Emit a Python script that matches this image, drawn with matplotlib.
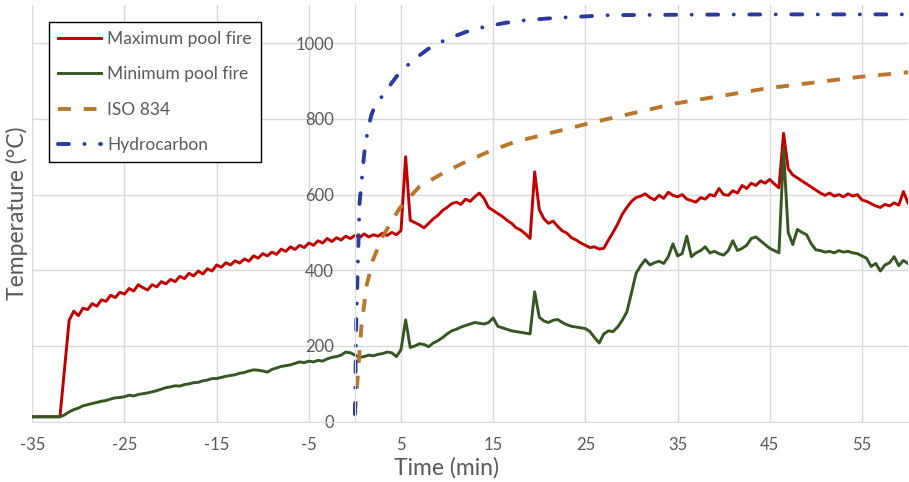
import numpy as np
import matplotlib
matplotlib.use("Agg")
import matplotlib.pyplot as plt

plt.rcParams['font.family'] = ['Lato', 'DejaVu Sans']
plt.rcParams['axes.unicode_minus'] = False

# Logged temperatures, one reading every 0.5 min from -35 to 60 min
time_min = np.arange(-35, 60.01, 0.5)

# Maximum pool fire (each row = 5 minutes)
max_pool = [
    13, 13, 13, 13, 13, 13, 13, 140, 268, 292,          # -35
    280, 300, 296, 312, 305, 322, 318, 334, 328, 342,   # -30
    337, 352, 345, 362, 354, 348, 362, 356, 370, 364,   # -25
    376, 370, 384, 378, 392, 385, 398, 390, 404, 398,   # -20
    414, 408, 420, 414, 425, 419, 430, 424, 438, 432,   # -15
    444, 438, 448, 442, 456, 450, 462, 455, 466, 460,   # -10
    472, 466, 478, 472, 484, 476, 486, 480, 490, 484,   # -5
    492, 486, 496, 488, 494, 490, 498, 492, 500, 494,   # 0
    505, 700, 532, 526, 520, 512, 524, 536, 545, 558,   # 5
    566, 576, 580, 574, 588, 582, 594, 604, 590, 566,   # 10
    558, 550, 542, 532, 524, 512, 506, 496, 484, 660,   # 15
    560, 536, 524, 530, 516, 504, 498, 486, 480, 472,   # 20
    466, 460, 462, 456, 458, 480, 500, 522, 548, 566,   # 25
    582, 592, 596, 602, 592, 586, 598, 590, 606, 598,   # 30
    594, 600, 588, 584, 580, 592, 588, 600, 596, 616,   # 35
    600, 598, 610, 604, 624, 616, 630, 624, 636, 630,   # 40
    640, 628, 618, 762, 668, 652, 644, 636, 628, 620,   # 45
    612, 604, 598, 604, 596, 600, 594, 602, 596, 600,   # 50
    586, 582, 576, 570, 566, 574, 570, 578, 572, 608,   # 55
    578,                                                # 60
]

# Minimum pool fire
min_pool = [
    13, 13, 13, 13, 13, 13, 13, 18, 26, 32,             # -35
    36, 42, 45, 48, 51, 54, 56, 60, 63, 64,             # -30
    66, 70, 68, 72, 74, 76, 79, 82, 86, 90,             # -25
    92, 95, 94, 98, 100, 103, 104, 108, 110, 114,       # -20
    114, 117, 120, 122, 124, 128, 130, 134, 137, 136,   # -15
    134, 131, 138, 142, 146, 148, 150, 154, 158, 156,   # -10
    160, 158, 162, 160, 166, 170, 172, 176, 184, 182,   # -5
    176, 170, 172, 176, 174, 178, 180, 184, 182, 172,   # 0
    190, 269, 196, 200, 206, 204, 198, 208, 214, 222,   # 5
    232, 240, 244, 250, 254, 258, 262, 260, 258, 262,   # 10
    274, 252, 248, 244, 240, 238, 236, 234, 232, 343,   # 15
    276, 266, 262, 268, 270, 262, 256, 252, 250, 248,   # 20
    246, 238, 222, 208, 232, 240, 238, 250, 268, 290,   # 25
    340, 392, 412, 428, 414, 420, 424, 418, 436, 470,   # 30
    438, 444, 490, 436, 446, 452, 462, 446, 450, 444,   # 35
    440, 452, 478, 452, 458, 466, 484, 488, 478, 468,   # 40
    458, 452, 446, 718, 500, 468, 508, 500, 494, 470,   # 45
    454, 452, 448, 450, 446, 452, 448, 450, 446, 444,   # 50
    438, 432, 410, 418, 398, 414, 420, 436, 412, 426,   # 55
    418,                                                # 60
]

# Standard fire curves
iso_t = [0, 0.33, 0.7, 1.24, 1.95, 3.0, 4.85, 7.0, 9.5, 12.05, 14.95,
         17.5, 21.1, 26.2, 34.85, 44.8, 54.8, 60]
iso_temp = [20, 128, 251, 357, 427, 489, 564, 621, 656, 687, 718,
            740, 762, 793, 841, 881, 911, 923]

hc_t = [0, 0.15, 0.33, 0.5, 1.05, 1.4, 1.78, 2.13, 3.22, 4.48, 6.1, 7.9,
        9.9, 12.07, 14.2, 16.4, 18.6, 22, 27.6, 35, 45, 60]
hc_temp = [20, 269, 427, 577, 718, 771, 810, 832, 869, 911, 951, 984,
           1010, 1030, 1044, 1054, 1061, 1067, 1074, 1075, 1076, 1076]

x_ticks = [-35, -25, -15, -5, 5, 15, 25, 35, 45, 55]
y_ticks = [0, 200, 400, 600, 800, 1000]

W, H = 909, 482
fig = plt.figure(figsize=(W / 100, H / 100), dpi=100)
ax = fig.add_axes([32.3 / W, 60.3 / H, (908 - 32.3) / W, 416.4 / H])

ax.plot(time_min, max_pool, color='#C00000', lw=2.1, label='Maximum pool fire')
ax.plot(time_min, min_pool, color='#375623', lw=2.1, label='Minimum pool fire')
ax.plot(iso_t, iso_temp, color='#B8772A', lw=2.8, dashes=(3.3, 3.3),
        label='ISO 834')
ax.plot(hc_t, hc_temp, color='#2B3A9B', lw=2.8, dashes=(2.8, 4.0, 0.01, 4.0),
        dash_capstyle='round', label='Hydrocarbon')

ax.set_xlim(-35, 60)
ax.set_ylim(0, 1100)
ax.set_xticks(x_ticks)
ax.set_yticks(y_ticks)
ax.grid(True, color='#D9D9D9', lw=1)
ax.set_axisbelow(True)

for s in ['top', 'right']:
    ax.spines[s].set_visible(False)
ax.spines['left'].set_position(('data', 0))
ax.spines['left'].set_color('#D9D9D9')
ax.spines['bottom'].set_color('#D9D9D9')

ax.tick_params(axis='x', length=0, pad=11, labelsize=12, labelcolor='#595959')
ax.tick_params(axis='y', length=0, pad=15, labelsize=12, labelcolor='#595959')

ax.set_xlabel('Time (min)', fontsize=16.5, color='#595959')
ax.set_ylabel('Temperature (°C)', fontsize=16.5, color='#595959')
ax.xaxis.set_label_coords(0.473, -0.085)
ax.yaxis.set_label_coords(-0.005, 0.501)

leg = ax.legend(loc='upper left', bbox_to_anchor=(49.3 / W, 1 - 22.3 / H),
                bbox_transform=fig.transFigure, borderaxespad=0, fancybox=False,
                edgecolor='black', framealpha=1, fontsize=12.5,
                handlelength=2.5, handletextpad=0.35, labelspacing=1.12,
                borderpad=0.5, labelcolor='#595959')
leg.get_frame().set_linewidth(1)

fig.savefig('out.png', dpi=100)
